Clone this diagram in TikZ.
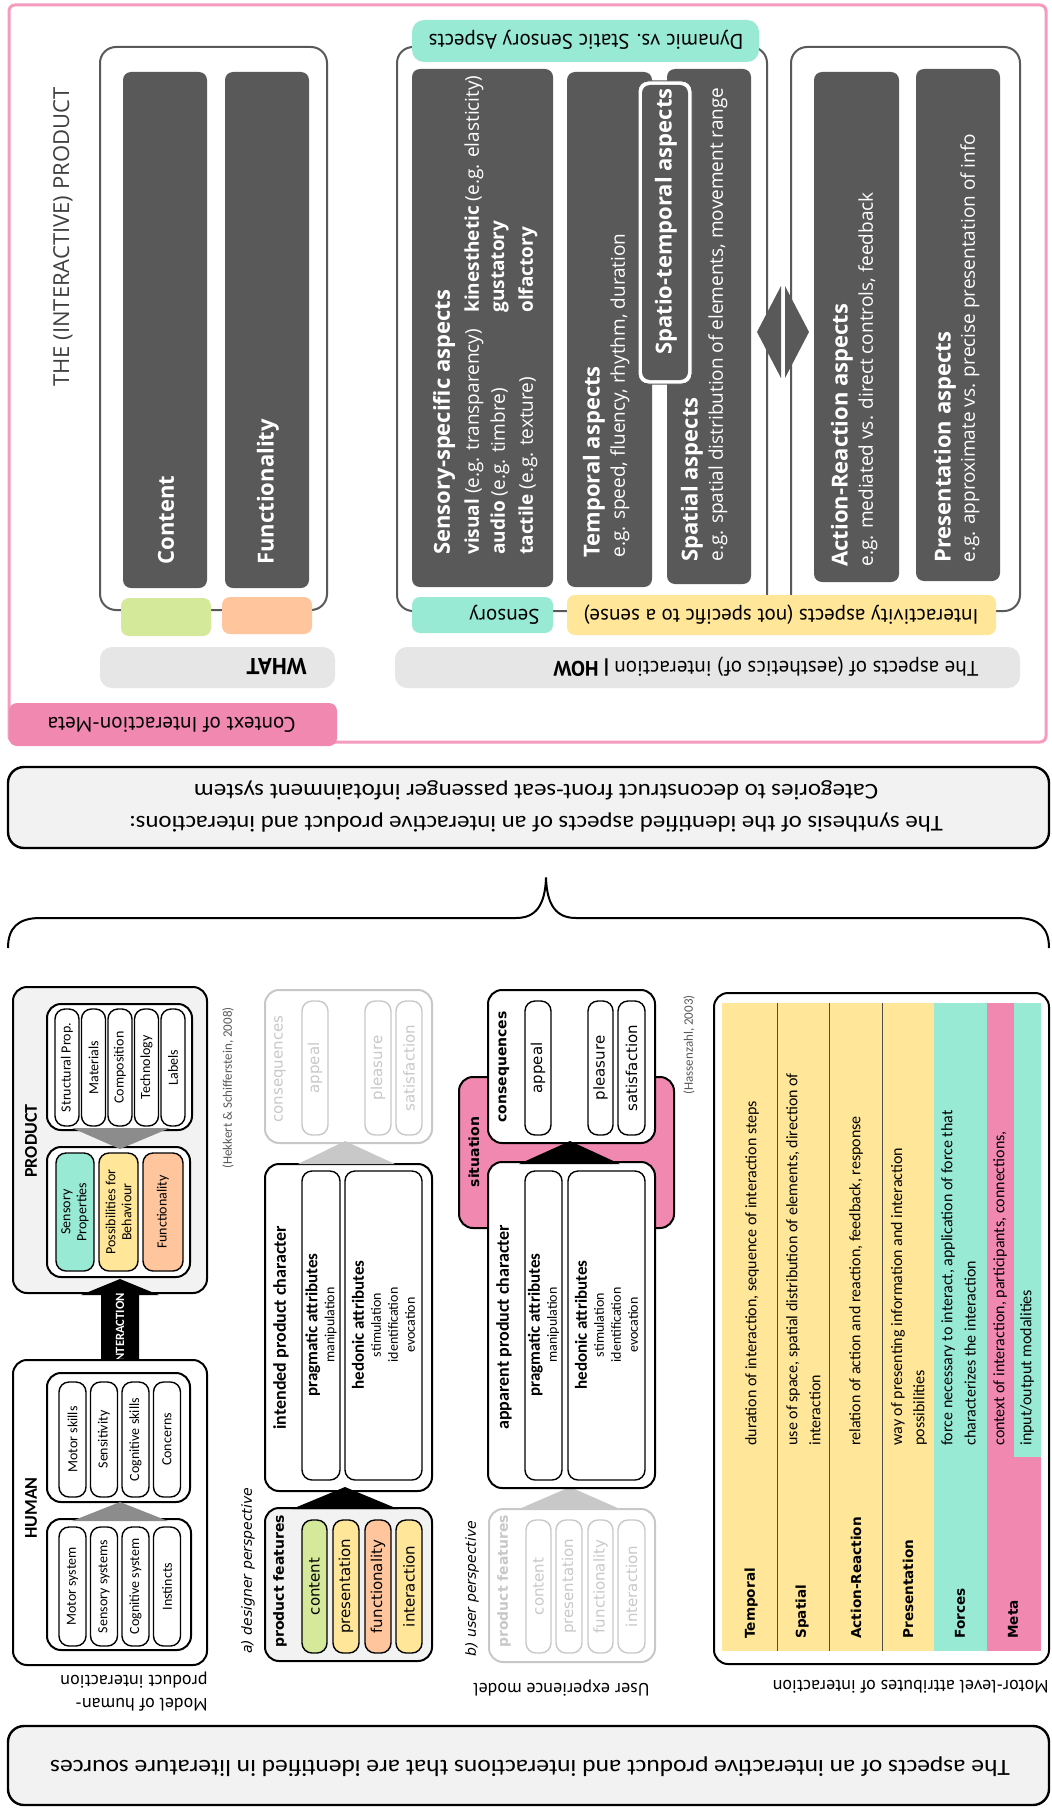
\documentclass[tikz,border=0pt]{standalone}
\usepackage{fontspec}
\setmainfont{Open Sans}
\newfontfamily\calfont{Carlito}
\newfontfamily\widecal[FakeStretch=1.1]{Carlito}
\newfontfamily\dinfont{PT Sans}
\newfontfamily\verfont{DejaVu Sans}

\definecolor{darkbox}{HTML}{595959}
\definecolor{mint}{HTML}{99EAD4}
\definecolor{lemon}{HTML}{FFE699}
\definecolor{peach}{HTML}{FFC59D}
\definecolor{lime}{HTML}{D4E99A}
\definecolor{rose}{HTML}{F088B0}
\definecolor{roseline}{HTML}{F49BBE}
\definecolor{barfill}{HTML}{E6E6E6}
\definecolor{boxfill}{HTML}{F2F2F2}
\definecolor{faded}{HTML}{C8C8C8}
\definecolor{arrowgray}{HTML}{8C8C8C}

\tikzset{
  vt/.style={rotate=90,anchor=west},
  vc/.style={rotate=90,align=center},
  ut/.style={rotate=180,anchor=west},
  uc/.style={rotate=180,align=center},
  dark/.style={fill=darkbox,rounded corners=4pt},
  frame/.style={draw=darkbox,line width=1pt,rounded corners=8pt},
  bar/.style={fill=barfill,rounded corners=6pt},
  head/.style={font=\bfseries\fontsize{11}{13}\selectfont,text=white},
  body/.style={font=\fontsize{9.5}{11}\selectfont,text=white},
  tab/.style={font=\dinfont\fontsize{10.5}{12}\selectfont},
  blackbox/.style={draw=black,line width=1pt,rounded corners=7pt},
  pill/.style={draw=black,line width=0.7pt,rounded corners=5pt},
  fadepill/.style={draw=faded,line width=0.7pt,rounded corners=5pt},
  small/.style={font=\calfont\fontsize{7}{8}\selectfont},
  ver/.style={font=\verfont\fontsize{7.5}{9}\selectfont},
  attr/.style={font=\calfont\fontsize{7}{8.5}\selectfont,align=center},
  lbl/.style={font=\verfont\bfseries\fontsize{6.8}{8}\selectfont},
  desc/.style={font=\calfont\fontsize{8}{9}\selectfont},
  note/.style={font=\dinfont\fontsize{9}{11.5}\selectfont}
}

\begin{document}
\begin{tikzpicture}[x=0.5pt,y=-0.5pt,line join=round]
\tikzset{every node/.style={inner sep=0pt}}
\useasboundingbox (0,0) rectangle (1051,1809);
\fill[white] (0,0) rectangle (1051,1809);

% the interactive product
\draw[roseline,line width=1.5pt,rounded corners=3pt] (9,5) rectangle (1046,742);
\fill[rose,rounded corners=4pt] (9,703) rectangle (337,746);
\node[ut,tab] (ctx) at (296,725) {Context of Interaction-Meta};
\node[vt,font=\fontsize{11}{13}\selectfont,text=black!75] (title) at (63,387) {THE (INTERACTIVE) PRODUCT};

\draw[frame] (100,47) rectangle (327,610);
\fill[dark] (123,72) rectangle (207,588);
\fill[dark] (225,72) rectangle (309,588);
\node[vt,head] (content) at (166,565) {Content};
\node[vt,head] (functionality) at (268,565) {Functionality};
\fill[lime,rounded corners=4pt] (121,598) rectangle (211,636);
\fill[peach,rounded corners=4pt] (222,597) rectangle (312,634);
\fill[bar] (100,647) rectangle (335,688);
\node[ut,font=\dinfont\bfseries\fontsize{11.5}{13}\selectfont] (what) at (307,667) {WHAT};

\draw[frame] (397,47) rectangle (767,611);
\draw[frame] (791,47) rectangle (1020,611);
\fill[mint,rounded corners=6pt] (412,20) rectangle (759,62);
\node[uc,tab] (dynamic) at (586,40) {Dynamic vs. Static Sensory Aspects};

\fill[dark] (412,69) rectangle (553,587);
\fill[dark] (567,72) rectangle (652,587);
\fill[dark] (667,69) rectangle (751,584);
\draw[draw=darkbox,line width=0.5pt,fill=white,rounded corners=5pt] (638,81) rectangle (692,384);
\fill[dark] (642,85) rectangle (688,380);
\node[vt,head] (spatiotemp) at (666,355) {Spatio-temporal aspects};

\node[vt,head] (sensspec) at (444,555) {Sensory-specific aspects};
\node[vt,body] (visual) at (474,555) {\textbf{visual} (e.g. transparency)};
\node[vt,body] (audio) at (500,555) {\textbf{audio} (e.g. timbre)};
\node[vt,body] (tactile) at (528,555) {\textbf{tactile} (e.g. texture)};
\node[vt,body] (kinest) at (474,313) {\textbf{kinesthetic} (e.g. elasticity)};
\node[vt,body] (gustat) at (500,313) {\textbf{gustatory}};
\node[vt,body] (olfact) at (528,313) {\textbf{olfactory}};

\node[vt,head] (temporal) at (594,558) {Temporal aspects};
\node[vt,body] (temporalex) at (620,558) {e.g. speed, fluency, rhythm, duration};
\node[vt,head] (spatial) at (692,562) {Spatial aspects};
\node[vt,body] (spatialex) at (718,562) {e.g. spatial distribution of elements, movement range};

\fill[dark] (814,72) rectangle (899,582);
\fill[dark] (916,69) rectangle (1000,581);
\node[vt,head] (actreact) at (842,567) {Action-Reaction aspects};
\node[vt,body] (actreactex) at (868,567) {e.g. mediated vs. direct controls, feedback};
\node[vt,head] (present) at (945,563) {Presentation aspects};
\node[vt,body] (presentex) at (970,563) {e.g. approximate vs. precise presentation of info};

\fill[darkbox] (757,332) -- (781,286) -- (781,378) -- cycle;
\fill[darkbox] (809,332) -- (785,286) -- (785,378) -- cycle;

\fill[mint,rounded corners=4pt] (412,597) rectangle (553,633);
\node[ut,tab] (sensory) at (540,615) {Sensory};
\fill[lemon,rounded corners=4pt] (567,595) rectangle (996,635);
\node[ut,tab] (interactivity) at (979,615) {Interactivity aspects (not specific to a sense)};
\fill[bar] (395,647) rectangle (1020,688);
\node[ut,tab] (how) at (979,667) {The aspects of (aesthetics of) interaction \textbf{| HOW}};

% synthesis and brace
\draw[line width=1.2pt,fill=boxfill,rounded corners=8pt] (8,767) rectangle (1049,848);
\node[uc,font=\widecal\fontsize{11.3}{16}\selectfont] (synth) at (536,806)
  {The synthesis of the identified aspects of an interactive product and interactions:\\
   Categories to deconstruct front-seat passenger infotainment system};
\draw[line width=1pt] (8,948) .. controls (8,928) and (18,918) .. (40,918) -- (516,918)
  .. controls (536,918) and (545,905) .. (546,878) .. controls (547,905) and (556,918) .. (576,918)
  -- (1017,918) .. controls (1039,918) and (1049,928) .. (1049,948);

% human - product model
\draw[blackbox,fill=boxfill] (13,987) rectangle (207,1293);
\node[vc,font=\calfont\bfseries\fontsize{9}{10}\selectfont] (product) at (31,1141) {PRODUCT};
\draw[blackbox,fill=white] (47,1004) rectangle (192,1130);
\draw[pill,fill=white] (55,1009) rectangle (79,1126);
\draw[pill,fill=white] (81.5,1009) rectangle (105.5,1126);
\draw[pill,fill=white] (108,1009) rectangle (132,1126);
\draw[pill,fill=white] (134.5,1009) rectangle (158.5,1126);
\draw[pill,fill=white] (161,1009) rectangle (185,1126);
\node[vc,small] (structural) at (67,1067.5) {Structural Prop.};
\node[vc,small] (materials) at (93.5,1067.5) {Materials};
\node[vc,small] (composition) at (120,1067.5) {Composition};
\node[vc,small] (technology) at (146.5,1067.5) {Technology};
\node[vc,small] (labels) at (173,1067.5) {Labels};
\draw[blackbox,fill=white] (47,1147) rectangle (190,1277);
\fill[arrowgray] (72,1128) -- (170,1128) -- (120,1149) -- cycle;
\draw[pill,fill=mint] (56,1153) rectangle (94,1271);
\draw[pill,fill=lemon] (99,1153) rectangle (138,1271);
\draw[pill,fill=peach] (143,1153) rectangle (183,1271);
\node[vc,small] (sensprop) at (75,1212) {Sensory\\Properties};
\node[vc,small] (possib) at (118.5,1212) {Possibilities for\\Behaviour};
\node[vc,small] (funcprop) at (163,1212) {Functionality};

\fill[black] (120,1279) -- (159,1295) -- (139,1295) -- (139,1361) -- (159,1361) -- (120,1379)
  -- (81,1361) -- (101,1361) -- (101,1295) -- (81,1295) -- cycle;
\node[vc,font=\calfont\bfseries\fontsize{6.3}{8}\selectfont,text=white] (interaction) at (120,1329) {INTERACTION};

\draw[blackbox,fill=white] (13,1360) rectangle (207,1665);
\node[vc,font=\calfont\bfseries\fontsize{9}{10}\selectfont] (human) at (31,1508) {HUMAN};
\draw[blackbox,fill=white] (47,1373) rectangle (190,1502);
\draw[pill,fill=white] (59,1382) rectangle (86,1497);
\draw[pill,fill=white] (90.5,1382) rectangle (117.5,1497);
\draw[pill,fill=white] (122,1382) rectangle (149,1497);
\draw[pill,fill=white] (153.5,1382) rectangle (180.5,1497);
\node[vc,small] (motorskills) at (72.5,1439.5) {Motor skills};
\node[vc,small] (sensitivity) at (104,1439.5) {Sensitivity};
\node[vc,small] (cogskills) at (135.5,1439.5) {Cognitive skills};
\node[vc,small] (concerns) at (167,1439.5) {Concerns};
\draw[blackbox,fill=white] (47,1519) rectangle (191,1650);
\fill[arrowgray] (120,1502) -- (168,1521) -- (72,1521) -- cycle;
\draw[pill,fill=white] (59,1527) rectangle (86,1646);
\draw[pill,fill=white] (90.5,1527) rectangle (117.5,1646);
\draw[pill,fill=white] (122,1527) rectangle (149,1646);
\draw[pill,fill=white] (153.5,1527) rectangle (180.5,1646);
\node[vc,small] (motorsys) at (72.5,1586.5) {Motor system};
\node[vc,small] (senssys) at (104,1586.5) {Sensory systems};
\node[vc,small] (cogsys) at (135.5,1586.5) {Cognitive system};
\node[vc,small] (instincts) at (167,1586.5) {Instincts};

\node[vc,font=\calfont\fontsize{6.5}{8}\selectfont,text=black!65] (hekkert) at (228,1088) {(Hekkert \& Schifferstein, 2008)};
\node[rotate=180,anchor=north west,align=left,note] (hpmodel) at (208,1712) {Model of human-\\product interaction};

% user experience model, designer side
\node[vt,font=\verfont\itshape\fontsize{7}{8}\selectfont] (designer) at (248,1654) {a) designer perspective};
\draw[blackbox,fill=boxfill] (265,1508) rectangle (432,1661);
\node[vt,font=\verfont\bfseries\fontsize{7}{8}\selectfont] (featA) at (280,1648) {product features};
\draw[pill,fill=lime] (302,1520) rectangle (327,1653);
\draw[pill,fill=lemon] (333,1520) rectangle (359,1653);
\draw[pill,fill=peach] (365,1520) rectangle (391,1653);
\draw[pill,fill=lemon] (396,1520) rectangle (422,1653);
\node[vc,ver] (contA) at (314.5,1586.5) {content};
\node[vc,ver] (presA) at (346,1586.5) {presentation};
\node[vc,ver] (funcA) at (378,1586.5) {functionality};
\node[vc,ver] (interA) at (409,1586.5) {interaction};

\draw[blackbox,fill=white] (265,1164) rectangle (432,1491);
\node[vt,font=\calfont\bfseries\fontsize{9}{10}\selectfont] (intended) at (281,1430) {intended product character};
\draw[pill] (302,1171) rectangle (340,1480);
\draw[pill] (345,1171) rectangle (422,1480);
\node[vc,attr] (pragA) at (321,1325) {{\bfseries\fontsize{8.5}{9}\selectfont pragmatic attributes}\\manipulation};
\node[vc,attr] (hedA) at (383.5,1325) {{\bfseries\fontsize{8.5}{9}\selectfont hedonic attributes}\\stimulation\\identification\\evocation};
\fill[black] (345,1487) -- (398,1509) -- (292,1509) -- cycle;

\fill[faded] (345,1141) -- (395,1164) -- (298,1164) -- cycle;
\draw[blackbox,draw=faded] (265,990) rectangle (432,1143);
\node[vt,ver,text=faded] (consA) at (280,1123) {consequences};
\draw[fadepill] (302,1001) rectangle (328,1135);
\draw[fadepill] (365,1001) rectangle (391,1135);
\draw[fadepill] (396,1001) rectangle (422,1135);
\node[vc,ver,text=faded] (appealA) at (315,1068) {appeal};
\node[vc,ver,text=faded] (pleasA) at (378,1068) {pleasure};
\node[vc,ver,text=faded] (satisA) at (409,1068) {satisfaction};

% user side
\node[vt,font=\verfont\itshape\fontsize{7}{8}\selectfont] (user) at (472,1657) {b) user perspective};
\draw[blackbox,draw=faded,fill=white] (489,1509) rectangle (655,1662);
\node[vt,font=\verfont\bfseries\fontsize{7}{8}\selectfont,text=faded] (featB) at (504,1648) {product features};
\draw[fadepill] (526,1520) rectangle (551,1653);
\draw[fadepill] (556,1520) rectangle (582,1653);
\draw[fadepill] (588,1520) rectangle (613,1653);
\draw[fadepill] (618,1520) rectangle (645,1653);
\node[vc,ver,text=faded] (contB) at (538.5,1586.5) {content};
\node[vc,ver,text=faded] (presB) at (569,1586.5) {presentation};
\node[vc,ver,text=faded] (funcB) at (600.5,1586.5) {functionality};
\node[vc,ver,text=faded] (interB) at (631.5,1586.5) {interaction};
\fill[faded] (570,1487) -- (620,1509) -- (519,1509) -- cycle;

\draw[blackbox,fill=rose] (459,1077) rectangle (674,1228);
\node[vc,font=\verfont\bfseries\fontsize{7}{8}\selectfont] (situation) at (474,1152) {situation};
\draw[blackbox,fill=white] (488,1162) rectangle (655,1488);
\node[vt,font=\calfont\bfseries\fontsize{9}{10}\selectfont] (apparent) at (504,1430) {apparent product character};
\draw[pill] (525,1171) rectangle (562,1480);
\draw[pill] (568,1171) rectangle (645,1480);
\node[vc,attr] (pragB) at (543.5,1325) {{\bfseries\fontsize{8.5}{9}\selectfont pragmatic attributes}\\manipulation};
\node[vc,attr] (hedB) at (606.5,1325) {{\bfseries\fontsize{8.5}{9}\selectfont hedonic attributes}\\stimulation\\identification\\evocation};
\draw[blackbox,fill=white] (488,990) rectangle (655,1143);
\fill[black] (570,1141) -- (620,1164) -- (519,1164) -- cycle;
\node[vt,font=\verfont\bfseries\fontsize{7}{8}\selectfont] (consB) at (504,1123) {consequences};
\draw[pill,fill=white] (525,1001) rectangle (551,1135);
\draw[pill,fill=white] (588,1001) rectangle (613,1135);
\draw[pill,fill=white] (618,1001) rectangle (645,1135);
\node[vc,ver] (appealB) at (538,1068) {appeal};
\node[vc,ver] (pleasB) at (600.5,1068) {pleasure};
\node[vc,ver] (satisB) at (631.5,1068) {satisfaction};
\node[vc,font=\calfont\fontsize{6.5}{8}\selectfont,text=black!65] (hassenzahl) at (689,1045) {(Hassenzahl, 2003)};
\node[ut,note] (uxmodel) at (650,1688) {User experience model};

% motor-level attributes
\draw[blackbox,fill=white] (714,993) rectangle (1049,1664);
\fill[lemon] (722,1003) rectangle (934,1651);
\fill[mint] (934,1003) rectangle (987,1651);
\fill[rose] (987,1003) rectangle (1041,1651);
\fill[mint] (1014,1003) rectangle (1041,1457);
\draw[black!70,line width=0.4pt] (777,1003) -- (777,1651) (829,1003) -- (829,1651) (882,1003) -- (882,1651);
\node[vt,lbl] (ltemp) at (751,1639) {Temporal};
\node[vt,lbl] (lspat) at (802,1639) {Spatial};
\node[vt,lbl] (lact) at (856,1639) {Action-Reaction};
\node[vt,lbl] (lpres) at (908,1639) {Presentation};
\node[vt,lbl] (lforce) at (960,1639) {Forces};
\node[vt,lbl] (lmeta) at (1013,1639) {Meta};
\node[vt,desc] (dtemp) at (752,1446) {duration of interaction, sequence of interaction steps};
\node[vt,desc] (dspat) at (793,1446) {use of space, spatial distribution of elements, direction of};
\node[vt,desc] (dspat2) at (815,1446) {interaction};
\node[vt,desc] (dact) at (856,1446) {relation of action and reaction, feedback, response};
\node[vt,desc] (dpres) at (898,1446) {way of presenting information and interaction};
\node[vt,desc] (dpres2) at (920,1446) {possibilities};
\node[vt,desc] (dforce) at (948,1446) {force necessary to interact, application of force that};
\node[vt,desc] (dforce2) at (970,1446) {characterizes the interaction};
\node[vt,desc] (dmeta) at (1000,1446) {context of interaction, participants, connections,};
\node[vt,desc] (dmeta2) at (1027,1446) {input/output modalities};
\node[ut,font=\dinfont\fontsize{9}{10}\selectfont] (motorlevel) at (1049,1687) {Motor-level attributes of interaction};

% literature sources
\draw[line width=1.2pt,fill=boxfill,rounded corners=8pt] (8,1726) rectangle (1049,1805);
\node[uc,font=\widecal\fontsize{11.6}{13}\selectfont] (literature) at (530,1767)
  {The aspects of an interactive product and interactions that are identified in literature sources};
\end{tikzpicture}
\end{document}
